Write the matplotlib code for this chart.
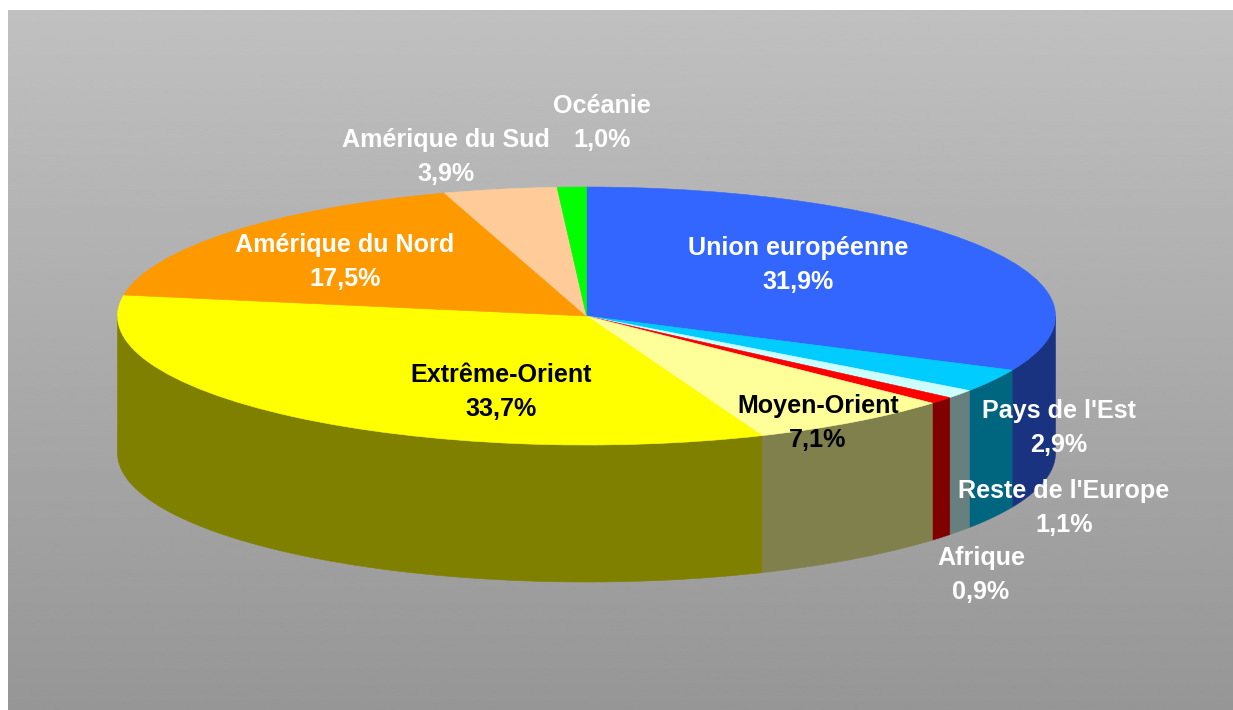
import numpy as np
from matplotlib import pyplot as plt
from matplotlib.colors import to_rgb

regions = ["Union européenne", "Pays de l'Est", "Reste de l'Europe", "Afrique", "Moyen-Orient",
           "Extrême-Orient", "Amérique du Nord", "Amérique du Sud", "Océanie"]
shares = [31.9, 2.9, 1.1, 0.9, 7.1, 33.7, 17.5, 3.9, 1.0]
colors = ["#3366FF", "#00CCFF", "#CCFFFF", "#FF0000", "#FFFF99",
          "#FFFF00", "#FF9900", "#FFCC99", "#00FF00"]
text_colors = ["white", "white", "white", "white", "black", "black", "white", "white", "white"]

# label centres in pixels of the picture
label_pos = [(798, 265), (1059, 428), (1064, 508), (981, 575), (818, 423),
             (501, 392), (345, 262), (446, 157), (602, 123)]

W, H = 1233, 710
cx, cy = 586.5, 316
rx, ry = 469, 129
depth = 137 / ry

plt.rcParams['font.family'] = ['Liberation Sans', 'DejaVu Sans']
fig = plt.figure(figsize=(W / 100, H / 100), dpi=100, facecolor="white")
ax = fig.add_axes([0, 0, 1, 1])


def to_data(x, y):
    return (x - cx) / rx, (cy - y) / ry


# top of the pie, squashed afterwards by the axes limits
wedges, _ = ax.pie(shares, colors=colors, startangle=90, counterclock=False, radius=1,
                   wedgeprops={'linewidth': 0.4, 'zorder': 3})
for w, col in zip(wedges, colors):
    w.set_edgecolor(col)

# background gradient
x0, y_top = to_data(8, 10)
x1, y_bot = to_data(W, H)
grad = np.linspace(0xC0, 0x96, 256).reshape(-1, 1) / 255
ax.imshow(grad, cmap='gray', vmin=0, vmax=1, extent=(x0, x1, y_bot, y_top),
          aspect='auto', zorder=0, interpolation='bilinear')
ax.set_aspect('auto')
ax.set_xlim((0 - cx) / rx, (W - cx) / rx)
ax.set_ylim((cy - H) / ry, cy / ry)

# side wall, only the front half of the ellipse shows
ends = np.cumsum(shares) / 100 * 360
starts = ends - np.array(shares) / 100 * 360
for start, end, col in zip(starts, ends, colors):
    a = max(start, 90)
    b = min(end, 270)
    if a >= b:
        continue
    t = np.radians(np.linspace(a, b, 100))
    xs = np.sin(t)
    ys = np.cos(t)
    dark = tuple(c * 0.5 for c in to_rgb(col))
    ax.fill(np.r_[xs, xs[::-1]], np.r_[ys, ys[::-1] - depth], color=dark, lw=0.4, zorder=2)

for name, share, col, pos in zip(regions, shares, text_colors, label_pos):
    px, py = to_data(*pos)
    label = name + "\n" + f"{share:.1f}".replace(".", ",") + "%"
    ax.text(px, py, label, color=col, fontsize=18.1, fontweight='bold',
            ha='center', va='center', linespacing=1.56, zorder=5)

fig.savefig("out.png", dpi=100)
